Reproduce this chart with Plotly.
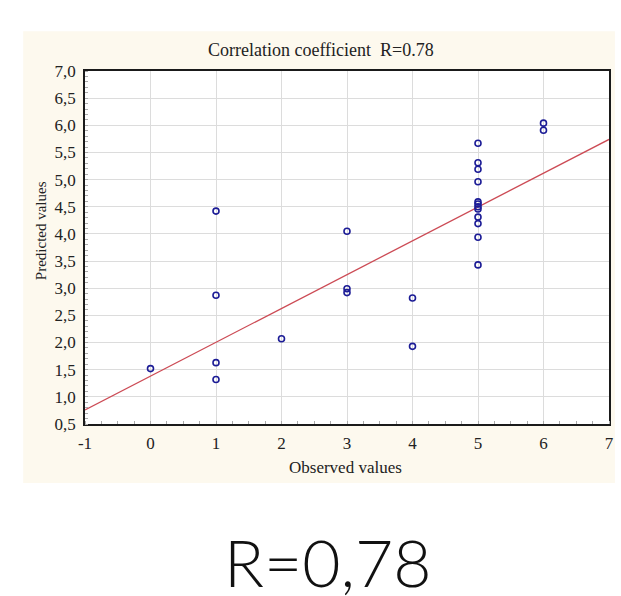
import plotly.graph_objects as go

# Data
observed = [0, 1, 1, 1, 1, 2, 3, 3, 3, 4, 4,
            5, 5, 5, 5, 5, 5, 5, 5, 5, 5, 5, 5, 6, 6]
predicted = [1.52, 4.42, 2.87, 1.63, 1.32, 2.07, 4.05, 2.99, 2.92, 2.82, 1.93,
             5.67, 5.31, 5.19, 4.96, 4.59, 4.55, 4.50, 4.46, 4.31, 4.19, 3.94, 3.43, 6.04, 5.91]
fit_x = [-1, 7]
fit_y = [0.76, 5.74]

x_ticks = [-1, 0, 1, 2, 3, 4, 5, 6, 7]
x_tick_labels = ["-1", "0", "1", "2", "3", "4", "5", "6", "7"]
y_ticks = [0.5, 1.0, 1.5, 2.0, 2.5, 3.0, 3.5, 4.0, 4.5, 5.0, 5.5, 6.0, 6.5, 7.0]
y_tick_labels = ["0,5", "1,0", "1,5", "2,0", "2,5", "3,0", "3,5", "4,0", "4,5",
                 "5,0", "5,5", "6,0", "6,5", "7,0"]

title_text = "Correlation coefficient  R=0.78"
x_title = "Observed values"
y_title = "Predicted values"
big_text = "R=0,78"

serif = "Liberation Serif, Times New Roman, serif"

fig = go.Figure()
fig.add_trace(go.Scatter(
    x=fit_x, y=fit_y, mode="lines",
    line=dict(color="#cc4b55", width=1.3),
    hoverinfo="skip", showlegend=False,
))
fig.add_trace(go.Scatter(
    x=observed, y=predicted, mode="markers",
    marker=dict(symbol="circle-open", size=6, color="#1c1c96", line=dict(width=1.6, color="#1c1c96")),
    showlegend=False,
))

axis_common = dict(
    showline=True, linecolor="#1a1a1a", linewidth=1.5, mirror=True,
    showgrid=True, gridcolor="#dcdcdc", gridwidth=1,
    zeroline=False, ticks="",
    tickfont=dict(family=serif, size=17, color="#222222"),
)

fig.update_xaxes(
    range=[-1, 7], tickvals=x_ticks, ticktext=x_tick_labels, ticklabelstandoff=3,
    minor=dict(dtick=0.25, ticks="inside", ticklen=3, tickcolor="#aaaaaa", showgrid=False),
    **axis_common,
)
fig.update_yaxes(
    range=[0.5, 7.0], tickvals=y_ticks, ticktext=y_tick_labels, ticklabelstandoff=4,
    minor=dict(dtick=0.1, ticks="inside", ticklen=3, tickcolor="#aaaaaa", showgrid=False),
    **axis_common,
)

# cream panel behind the chart, white plot area on top of it
fig.add_shape(type="rect", xref="paper", yref="paper",
              x0=-0.118, x1=1.0113, y0=-0.167, y1=1.1124,
              fillcolor="#fdf9ee", line=dict(width=0), layer="below")
fig.add_shape(type="rect", xref="paper", yref="paper",
              x0=0, x1=1, y0=0, y1=1,
              fillcolor="white", line=dict(width=0), layer="below")

fig.add_annotation(text=title_text, xref="paper", yref="paper", x=0.450, y=1.0586,
                   showarrow=False, xanchor="center", yanchor="middle",
                   font=dict(family=serif, size=18, color="#222222"))
fig.add_annotation(text=x_title, xref="paper", yref="paper", x=0.497, y=-0.1245,
                   showarrow=False, xanchor="center", yanchor="middle",
                   font=dict(family=serif, size=17, color="#222222"))
fig.add_annotation(text=y_title, xref="paper", yref="paper", x=-0.084, y=0.549,
                   showarrow=False, xanchor="center", yanchor="middle", textangle=-90,
                   font=dict(family=serif, size=15, color="#222222"))
fig.add_annotation(text=big_text, xref="paper", yref="paper", x=0.4636, y=-0.389,
                   showarrow=False, xanchor="center", yanchor="middle",
                   font=dict(family="Lato, Noto Sans, sans-serif", size=66, color="#111111", weight=300))

fig.update_layout(
    width=621, height=596,
    margin=dict(l=84.5, r=7, t=70.7, b=172, pad=0),
    paper_bgcolor="white", plot_bgcolor="white",
    showlegend=False,
)

fig.write_html("out.html")
